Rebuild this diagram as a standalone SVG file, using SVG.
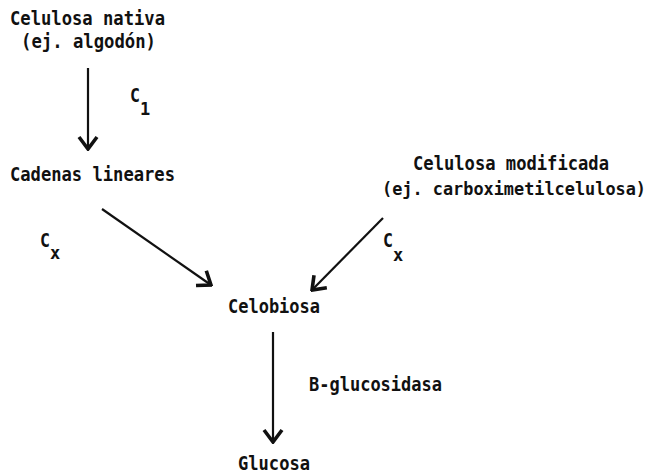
<svg xmlns="http://www.w3.org/2000/svg" width="654" height="475" viewBox="0 0 654 475">
  <style>
    text { font-family: "DejaVu Sans Mono", "Liberation Mono", monospace; font-weight: bold; font-size: 19px; fill: #111; }
    .sub { font-size: 17px; }
    .tight { font-size: 17.3px; }
    .conn { stroke: #111; stroke-width: 2.2; fill: none; }
  </style>
  <defs>
    <marker id="head" markerUnits="userSpaceOnUse" viewBox="-14 -11 16 22" refX="0" refY="0" markerWidth="16" markerHeight="22" orient="auto">
      <path d="M -12 -9 L 0 0 L -12 9" fill="none" stroke="#111" stroke-width="3.6" stroke-linejoin="miter"/>
    </marker>
  </defs>
  <rect width="654" height="475" fill="#fff"/>

  <g id="connectors">
    <line class="conn" x1="88" y1="68" x2="88" y2="149" marker-end="url(#head)"/>
    <line class="conn" x1="102" y1="209" x2="211" y2="285" marker-end="url(#head)"/>
    <line class="conn" x1="383" y1="218" x2="312" y2="290" marker-end="url(#head)"/>
    <line class="conn" x1="273" y1="332" x2="273" y2="442" marker-end="url(#head)"/>
  </g>

  <g id="celulosa-nativa">
    <text x="10" y="25" textLength="155" lengthAdjust="spacingAndGlyphs">Celulosa nativa</text>
    <text x="21" y="48" textLength="135" lengthAdjust="spacingAndGlyphs">(ej. algodón)</text>
  </g>
  <g id="label-c1">
    <text x="130" y="102" textLength="10" lengthAdjust="spacingAndGlyphs">C</text>
    <text class="sub" x="140" y="115">1</text>
  </g>
  <g id="cadenas-lineares">
    <text x="10" y="181" textLength="165" lengthAdjust="spacingAndGlyphs">Cadenas lineares</text>
  </g>
  <g id="celulosa-modificada">
    <text x="413" y="170" textLength="196" lengthAdjust="spacingAndGlyphs">Celulosa modificada</text>
    <text class="tight" x="382" y="195" textLength="264" lengthAdjust="spacingAndGlyphs">(ej. carboximetilcelulosa)</text>
  </g>
  <g id="label-cx-left">
    <text x="40" y="247" textLength="10" lengthAdjust="spacingAndGlyphs">C</text>
    <text class="sub" x="50" y="259">x</text>
  </g>
  <g id="label-cx-right">
    <text x="383" y="247" textLength="10" lengthAdjust="spacingAndGlyphs">C</text>
    <text class="sub" x="393" y="261">x</text>
  </g>
  <g id="celobiosa">
    <text x="228" y="313" textLength="92" lengthAdjust="spacingAndGlyphs">Celobiosa</text>
  </g>
  <g id="label-b-glucosidasa">
    <text x="309" y="391" textLength="133" lengthAdjust="spacingAndGlyphs">B-glucosidasa</text>
  </g>
  <g id="glucosa">
    <text x="238" y="470" textLength="72" lengthAdjust="spacingAndGlyphs">Glucosa</text>
  </g>
</svg>
